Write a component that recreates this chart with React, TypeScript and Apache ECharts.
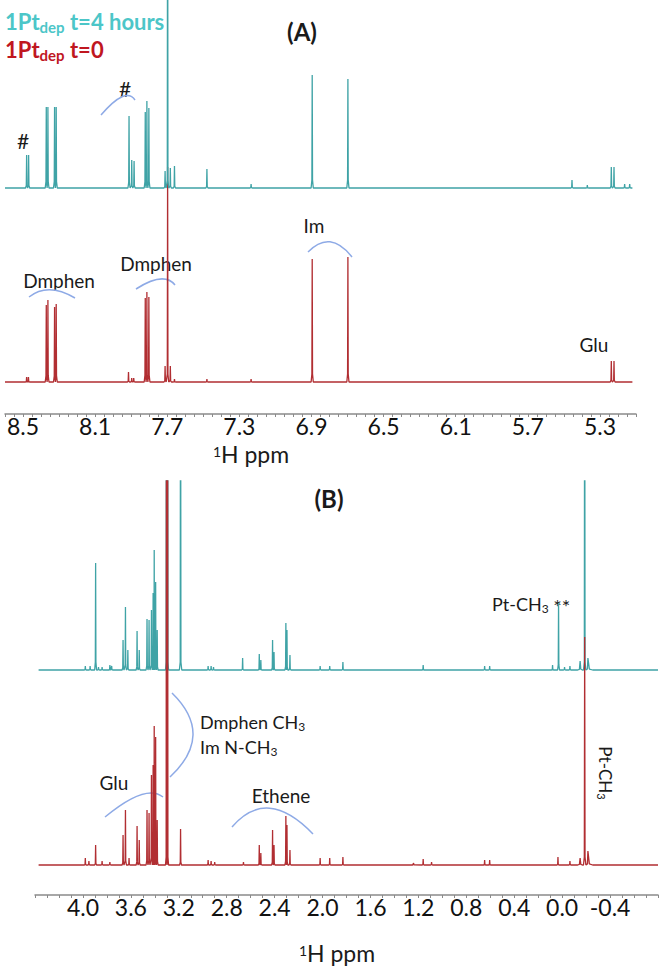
import React, { useEffect, useRef } from "react";
import * as echarts from "echarts";

// Panel A (aromatic region), peaks: [ppm, intensity(arb), halfWidth?]
const aTealPeaks: number[][] = [
  [8.48, 33], [8.469, 33],
  [8.371, 81], [8.362, 81], [8.325, 81], [8.316, 81],
  [7.912, 72], [7.897, 28], [7.884, 27],
  [7.822, 76], [7.813, 87], [7.802, 80],
  [7.712, 17], [7.698, 400, 0.006], [7.683, 20], [7.66, 22],
  [7.48, 19], [7.235, 4],
  [6.896, 113], [6.698, 109],
  [5.455, 8], [5.37, 3], [5.237, 21], [5.222, 21], [5.163, 4], [5.135, 4],
];
const aRedPeaks: number[][] = [
  [8.48, 5], [8.47, 5],
  [8.371, 77], [8.362, 82], [8.325, 75], [8.316, 78],
  [7.915, 10], [7.897, 4], [7.886, 4],
  [7.822, 84], [7.813, 90], [7.802, 85],
  [7.712, 16], [7.698, 215, 0.006], [7.683, 16], [7.66, 3],
  [7.48, 3], [7.235, 3],
  [6.896, 123], [6.698, 125],
  [5.237, 21], [5.222, 21],
];
// Panel B (aliphatic region)
const bTealPeaks: number[][] = [
  [3.98, 4], [3.94, 4], [3.894, 107], [3.87, 3], [3.84, 3], [3.775, 5], [3.76, 4],
  [3.665, 30], [3.645, 63], [3.625, 20],
  [3.548, 39], [3.53, 20],
  [3.465, 51], [3.448, 50], [3.428, 60], [3.414, 77], [3.405, 120], [3.393, 88], [3.38, 40],
  [3.303, 500], [3.293, 500], [3.185, 400, 0.01],
  [2.955, 4], [2.93, 4], [2.91, 3],
  [2.667, 12], [2.528, 16], [2.515, 10], [2.417, 30], [2.405, 18], [2.306, 47], [2.297, 40], [2.272, 15],
  [2.02, 4], [1.94, 4], [1.83, 8], [1.16, 5], [0.647, 4], [0.605, 4],
  [0.08, 5], [0.03, 67], [-0.02, 3], [-0.065, 4], [-0.15, 9, 0.02], [-0.188, 400, 0.01], [-0.215, 12, 0.04],
];
const bRedPeaks: number[][] = [
  [3.98, 7], [3.95, 4], [3.894, 20], [3.84, 4], [3.775, 3],
  [3.665, 30], [3.645, 55], [3.615, 7],
  [3.548, 39], [3.53, 25],
  [3.465, 55], [3.448, 52], [3.428, 90], [3.414, 100], [3.405, 139], [3.393, 128], [3.38, 45],
  [3.303, 500], [3.293, 500], [3.185, 36],
  [2.955, 5], [2.93, 4], [2.9, 3], [2.66, 3],
  [2.528, 20], [2.515, 12], [2.417, 35], [2.405, 20], [2.306, 49], [2.297, 40], [2.272, 15],
  [2.02, 7], [1.94, 7], [1.83, 8], [1.24, 2], [1.16, 6], [1.09, 3], [0.647, 5], [0.605, 5],
  [0.035, 8], [-0.065, 4], [-0.15, 7, 0.02], [-0.188, 228, 0.01], [-0.215, 14, 0.04],
];

const aRange = [5.1, 8.6];
const bRange = [-0.8, 4.4];
const aLabelStart = 8.5;
const bLabelMin = -0.4;
const bLabelMax = 4.0;

const TEAL = "#3fa3a6";
const RED = "#b12e32";
const ARC = "#8eaae6";
const FONT = "Lato";

function buildLine(peaks: number[][], lo: number, hi: number, w0: number) {
  const s = [...peaks].sort((a, b) => b[0] - a[0]);
  const pts: number[][] = [[hi, 0]];
  s.forEach((pk, i) => {
    const p = pk[0], h = pk[1];
    const w = pk[2] ?? w0;
    const gl = i > 0 ? (s[i - 1][0] - p) / 2 : w;
    const gr = i < s.length - 1 ? (p - s[i + 1][0]) / 2 : w;
    const wl = Math.min(w, gl), wr = Math.min(w, gr);
    const sk = Math.min(h * 0.08, 8);
    pts.push([p + wl, 0], [p + wl * 0.3, sk], [p, h], [p - wr * 0.3, sk], [p - wr, 0]);
  });
  pts.push([lo, 0]);
  return pts;
}

function quad(x1: number, y1: number, px: number, py: number, x2: number, y2: number) {
  return {
    type: "bezierCurve",
    shape: { x1, y1, x2, y2, cpx1: px, cpy1: py },
    style: { stroke: ARC, lineWidth: 1.5, fill: null },
    silent: true,
  };
}

function txt(x: number, y: number, text: string, opts: any = {}) {
  return {
    type: "text",
    x,
    y,
    rotation: opts.rotation || 0,
    style: {
      text,
      fill: opts.fill || "#1a1a1a",
      fontSize: opts.fontSize || 19,
      fontFamily: FONT,
      fontWeight: opts.fontWeight || "normal",
      align: opts.align || "center",
      verticalAlign: "middle",
      rich: opts.rich,
    },
  };
}

const subRich = (size: number, fill = "#1a1a1a", bold = false, pad = 8) => ({
  s: { fontSize: size, fontFamily: FONT, fill, fontWeight: bold ? "bold" : "normal", padding: [pad, 0, 0, 0] },
  a: { fontSize: 20, fontFamily: FONT, fill, padding: [4, 0, 0, 0] },
});

export default function App() {
  const ref = useRef<HTMLDivElement>(null);
  useEffect(() => {
    const chart = echarts.init(ref.current!, null, { renderer: "svg" });
    const hiddenX = (min: number, max: number, gi: number) => ({
      type: "value", gridIndex: gi, min, max, inverse: true, show: false,
    });
    const hiddenY = (max: number, gi: number) => ({
      type: "value", gridIndex: gi, min: -3, max, show: false,
    });
    const visX = (min: number, max: number, gi: number, interval: number, offset: number, fmt: (v: number) => string, fs: number) => ({
      type: "value", gridIndex: gi, min, max, inverse: true, interval, offset,
      axisLine: { show: true, onZero: false, lineStyle: { color: "#8a8a8a", width: 1.5 } },
      axisTick: { show: true, length: 3, interval: 0, lineStyle: { color: "#8a8a8a" } },
      splitLine: { show: false },
      axisLabel: {
        interval: 0, margin: 0, color: "#111", fontSize: fs, fontFamily: FONT, lineHeight: fs,
        showMinLabel: true, showMaxLabel: true, hideOverlap: false, formatter: fmt,
      },
    });
    const fmtA = (v: number) => {
      const k = (aLabelStart - v) / 0.4;
      return Math.abs(k - Math.round(k)) < 1e-4 && v <= aLabelStart + 1e-6 && v > aRange[0] + 0.1 ? v.toFixed(1) : "";
    };
    const fmtB = (v: number) => {
      const k = v / 0.4;
      return Math.abs(k - Math.round(k)) < 1e-4 && v >= bLabelMin - 1e-6 && v <= bLabelMax + 1e-6 ? (Math.abs(v) < 1e-6 ? "0.0" : v.toFixed(1)) : "";
    };
    const line = (data: number[][], color: string, xi: number, z: number) => ({
      type: "line", data, xAxisIndex: xi, yAxisIndex: xi, symbol: "none", clip: true, z,
      lineStyle: { color, width: 1.3 }, silent: true,
    });

    const option: any = {
      animation: false,
      grid: [
        { left: 5, width: 631, top: 0, height: 191 },
        { left: 5, width: 631, top: 162, height: 223 },
        { left: 35, width: 623, top: 481, height: 192 },
        { left: 35, width: 623, top: 481, height: 387 },
      ],
      xAxis: [
        hiddenX(aRange[0], aRange[1], 0),
        visX(aRange[0], aRange[1], 1, 0.05, 29, fmtA, 23),
        hiddenX(bRange[0], bRange[1], 2),
        visX(bRange[0], bRange[1], 3, 0.1, 27, fmtB, 23),
      ],
      yAxis: [hiddenY(188, 0), hiddenY(220, 1), hiddenY(189, 2), hiddenY(384, 3)],
      series: [
        line(buildLine(aTealPeaks, aRange[0] + 0.02, aRange[1], 0.006), TEAL, 0, 3),
        line(buildLine(aRedPeaks, aRange[0] + 0.02, aRange[1], 0.006), RED, 1, 2),
        line(buildLine(bTealPeaks, bRange[0], bRange[1] - 0.03, 0.008), TEAL, 2, 2),
        line(buildLine(bRedPeaks, bRange[0], bRange[1] - 0.03, 0.008), RED, 3, 3),
      ],
      graphic: [
        txt(5, 21, "1Pt{s|dep} t=4 hours", {
          align: "left", fill: "#4cc6c8", fontSize: 22, fontWeight: "bold",
          rich: subRich(15, "#4cc6c8", true, 12),
        }),
        txt(5, 49, "1Pt{s|dep} t=0", {
          align: "left", fill: "#c0171f", fontSize: 22, fontWeight: "bold",
          rich: subRich(15, "#c0171f", true, 12),
        }),
        txt(302, 31, "(A)", { fontSize: 24, fontWeight: "bold" }),
        txt(23, 140, "#", { fontSize: 21 }),
        txt(125, 88, "#", { fontSize: 21 }),
        quad(101, 115, 126, 86, 135, 100),
        txt(59, 280, "Dmphen"),
        quad(29, 297, 48, 282, 75, 298),
        txt(156, 263, "Dmphen"),
        quad(136, 289, 164, 271, 175, 285),
        txt(314, 225, "Im"),
        quad(308, 252, 330, 229, 352, 257),
        txt(594, 344, "Glu"),
        txt(251, 454, "{u|1}H ppm", {
          fontSize: 23,
          rich: { u: { fontSize: 14, fontFamily: FONT, fill: "#1a1a1a", padding: [0, 0, 6, 0] } },
        }),
        txt(329, 498, "(B)", { fontSize: 24, fontWeight: "bold" }),
        txt(492, 604, "Pt-CH{s|3} {a|**}", {
          align: "left", fontSize: 18,
          rich: subRich(12),
        }),
        quad(172, 693, 215, 735, 170, 777),
        txt(200, 722, "Dmphen CH{s|3}", {
          align: "left", fontSize: 18,
          rich: subRich(12),
        }),
        txt(200, 747, "Im N-CH{s|3}", {
          align: "left", fontSize: 18,
          rich: subRich(12),
        }),
        txt(114, 782, "Glu"),
        quad(105, 817, 146, 783, 163, 797),
        txt(281, 795, "Ethene"),
        quad(232, 827, 267, 786, 313, 834),
        txt(605, 773, "Pt-CH{s|3}", {
          fontSize: 17, rotation: -Math.PI / 2,
          rich: subRich(11),
        }),
        txt(337, 953, "{u|1}H ppm", {
          fontSize: 23,
          rich: { u: { fontSize: 14, fontFamily: FONT, fill: "#1a1a1a", padding: [0, 0, 6, 0] } },
        }),
      ],
    };
    chart.setOption(option);
    return () => chart.dispose();
  }, []);
  return <div ref={ref} style={{ width: 664, height: 967, position: "absolute", left: 0, top: 0 }} />;
}
